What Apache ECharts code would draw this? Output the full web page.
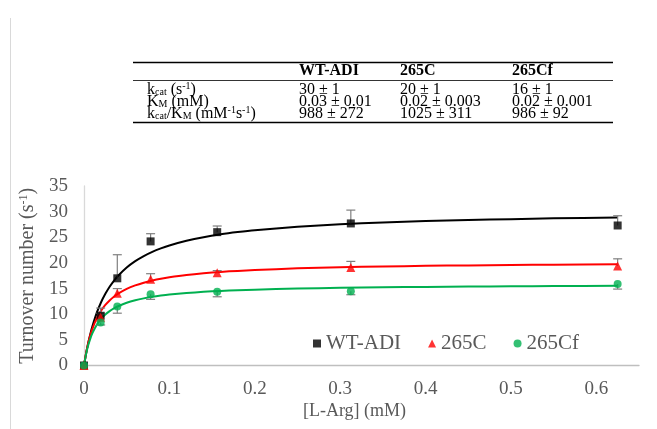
<!DOCTYPE html>
<html><head><meta charset="utf-8">
<script src="https://cdn.jsdelivr.net/npm/echarts@6/dist/echarts.min.js"></script>
<style>html,body{margin:0;padding:0;background:#fff}#c{width:657px;height:429px}</style>
</head><body><div id="c"></div>
<script>
// measured data
const xData = [0, 0.0195, 0.039, 0.078, 0.156, 0.3125, 0.625];
const wtY = [0, 9.7, 17.0, 24.2, 26.0, 27.7, 27.3];
const wtErr = [0, 1.5, 4.6, 1.5, 1.2, 2.6, 1.9];
const c265Y = [0, 9.4, 14.1, 16.8, 18.1, 19.1, 19.4];
const c265Err = [0, 0.8, 0.9, 1.1, 0.4, 1.2, 1.4];
const cf265Y = [0, 8.4, 11.5, 13.9, 14.4, 14.5, 15.9];
const cf265Err = [0, 0.5, 1.3, 1.0, 1.0, 0.7, 1.0];
// fitted curves
const curveX = [0, 0.0025, 0.005, 0.0075, 0.01, 0.015, 0.02, 0.025, 0.03, 0.035, 0.04, 0.05, 0.06, 0.07, 0.08, 0.09, 0.1, 0.12, 0.14, 0.16, 0.18, 0.2, 0.25, 0.3, 0.35, 0.4, 0.45, 0.5, 0.55, 0.625];
const wtCurve = [0, 2.40, 4.44, 6.21, 7.74, 10.30, 12.33, 13.98, 15.36, 16.52, 17.51, 19.11, 20.36, 21.35, 22.17, 22.84, 23.41, 24.32, 25.02, 25.57, 26.01, 26.38, 27.06, 27.54, 27.89, 28.16, 28.37, 28.54, 28.69, 28.86];
const c265Curve = [0, 2.48, 4.41, 5.97, 7.25, 9.23, 10.68, 11.80, 12.69, 13.41, 14.0, 14.93, 15.62, 16.15, 16.57, 16.92, 17.2, 17.65, 17.99, 18.25, 18.45, 18.62, 18.94, 19.15, 19.31, 19.43, 19.52, 19.59, 19.66, 19.73];
const cf265Curve = [0, 2.27, 3.98, 5.30, 6.36, 7.95, 9.09, 9.94, 10.6, 11.13, 11.56, 12.23, 12.72, 13.09, 13.39, 13.63, 13.83, 14.13, 14.36, 14.54, 14.68, 14.79, 15.0, 15.14, 15.25, 15.33, 15.39, 15.44, 15.48, 15.53];
const seriesNames = ['WT-ADI', '265C', '265Cf'];
const xTicks = [0, 0.1, 0.2, 0.3, 0.4, 0.5, 0.6];
const yTicks = [0, 5, 10, 15, 20, 25, 30, 35];
// table
const tableHeader = ['', 'WT-ADI', '265C', '265Cf'];
const tableRowLabels = ['{n|k}{sub|cat}{n| (s}{sup|-1}{n|)}', '{n|K}{sub|M}{n| (mM)}', '{n|k}{sub|cat}{n|/K}{sub|M}{n| (mM}{sup|-1}{n|s}{sup|-1}{n|)}'];
const tableValues = [
  ['30 ± 1', '20 ± 1', '16 ± 1'],
  ['0.03 ± 0.01', '0.02 ± 0.003', '0.02 ± 0.001'],
  ['988 ± 272', '1025 ± 311', '986 ± 92']
];

const FONT = '"Liberation Serif", "Times New Roman", serif';
const colors = ['#000000', '#ff0000', '#00b050'];
const symbols = ['rect', 'triangle', 'circle'];
const ys = [wtY, c265Y, cf265Y];
const errs = [wtErr, c265Err, cf265Err];
const dirs = [1, 1, -1];
const curves = [wtCurve, c265Curve, cf265Curve];

const chart = echarts.init(document.getElementById('c'), null, {renderer: 'canvas'});

const series = [];
curves.forEach((cv, i) => {
  series.push({
    type: 'line', name: seriesNames[i] + ' fit', data: curveX.map((x, k) => [x, cv[k]]),
    showSymbol: false, smooth: 0.25,
    lineStyle: {color: colors[i], width: 2}, z: 2, silent: true
  });
});
ys.forEach((yv, i) => {
  series.push({
    type: 'custom', name: seriesNames[i] + ' err',
    data: xData.map((x, k) => [x, yv[k], errs[i][k]]),
    z: 3, silent: true,
    renderItem: function (params, api) {
      const x = api.value(0), y = api.value(1), e = api.value(2);
      if (!e) return null;
      const p0 = api.coord([x, y]);
      const p1 = api.coord([x, y + dirs[i] * e]);
      const style = {stroke: '#7f7f7f', lineWidth: 1.2};
      return {type: 'group', children: [
        {type: 'line', shape: {x1: p0[0], y1: p0[1], x2: p1[0], y2: p1[1]}, style},
        {type: 'line', shape: {x1: p1[0] - 4.5, y1: p1[1], x2: p1[0] + 4.5, y2: p1[1]}, style}
      ]};
    }
  });
});
ys.forEach((yv, i) => {
  series.push({
    type: 'scatter', name: seriesNames[i], data: xData.map((x, k) => [x, yv[k]]),
    symbol: symbols[i], symbolSize: i === 1 ? 9 : 8,
    itemStyle: {color: colors[i]}, z: 5
  });
});

const graphics = [];
// chart-area border (left edge visible)
graphics.push({type: 'line', shape: {x1: 10.5, y1: 18, x2: 10.5, y2: 429}, style: {stroke: '#d9d9d9', lineWidth: 1}});
const tx = [147, 299, 400, 512];
const rowY = [89.5, 101.5, 113.5];
const rich = {
  n: {fontFamily: FONT, fontSize: 16, color: '#000', lineHeight: 16},
  sub: {fontFamily: FONT, fontSize: 10, color: '#000', lineHeight: 10, verticalAlign: 'bottom'},
  sup: {fontFamily: FONT, fontSize: 10, color: '#000', lineHeight: 10, verticalAlign: 'top'}
};
graphics.push({type: 'line', shape: {x1: 133, y1: 62.5, x2: 613, y2: 62.5}, style: {stroke: '#000', lineWidth: 1.5}});
graphics.push({type: 'line', shape: {x1: 133, y1: 80.5, x2: 613, y2: 80.5}, style: {stroke: '#000', lineWidth: 0.8}});
graphics.push({type: 'line', shape: {x1: 133, y1: 122.5, x2: 613, y2: 122.5}, style: {stroke: '#000', lineWidth: 1.5}});
tableHeader.forEach((h, j) => {
  if (!h) return;
  graphics.push({type: 'text', x: tx[j], y: 71, style: {text: h, font: 'bold 16px ' + FONT, fill: '#000', verticalAlign: 'middle'}});
});
tableRowLabels.forEach((lab, r) => {
  graphics.push({type: 'text', x: tx[0], y: rowY[r], style: {text: lab, rich: rich, verticalAlign: 'middle'}});
  tableValues[r].forEach((v, j) => {
    graphics.push({type: 'text', x: tx[j + 1], y: rowY[r], style: {text: v, font: '16px ' + FONT, fill: '#000', verticalAlign: 'middle'}});
  });
});

chart.setOption({
  animation: false,
  backgroundColor: '#fff',
  grid: {left: 84, right: 18, top: 186, bottom: 63.5},
  legend: {
    data: seriesNames.map((n, i) => ({name: n, icon: symbols[i]})),
    left: 308, top: 328, itemWidth: 8, itemHeight: 8, itemGap: 27,
    textStyle: {fontFamily: FONT, fontSize: 21, color: '#595959'}
  },
  xAxis: {
    type: 'value', min: 0, max: 0.65, interval: 0.1,
    name: '[L-Arg] (mM)', nameLocation: 'middle', nameGap: 37,
    nameTextStyle: {fontFamily: FONT, fontSize: 18, color: '#595959', padding: [0, 14, 0, 0]},
    axisLine: {show: true, lineStyle: {color: '#bfbfbf', width: 1.3}},
    axisTick: {show: false}, splitLine: {show: false},
    axisLabel: {fontFamily: FONT, fontSize: 19, color: '#595959', margin: 14, showMaxLabel: false,
      formatter: v => xTicks.some(t => Math.abs(t - v) < 1e-9) ? String(+v.toFixed(1)) : ''}
  },
  yAxis: {
    type: 'value', min: 0, max: 35, interval: 5,
    name: 'Turnover number (s{sup|-1})', nameLocation: 'middle', nameGap: 44,
    nameTextStyle: {fontFamily: FONT, fontSize: 20, color: '#595959',
      rich: {sup: {fontFamily: FONT, fontSize: 12, color: '#595959', verticalAlign: 'top', padding: [0, 0, 8, 0]}}},
    axisLine: {show: true, lineStyle: {color: '#d9d9d9', width: 1.3}},
    axisTick: {show: false}, splitLine: {show: false},
    axisLabel: {fontFamily: FONT, fontSize: 19, color: '#595959', margin: 16,
      formatter: v => yTicks.includes(v) ? String(v) : ''}
  },
  graphic: graphics,
  series: series
});
</script>
</body></html>
